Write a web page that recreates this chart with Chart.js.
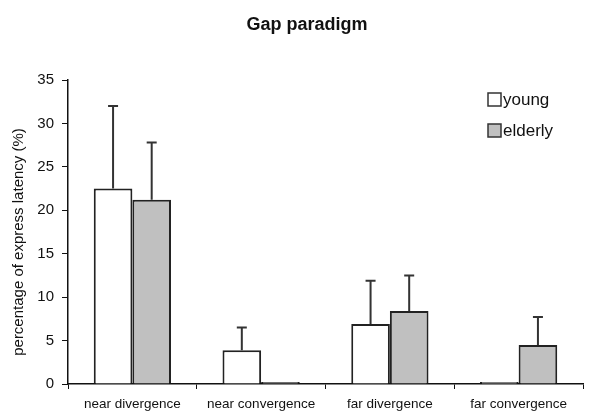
<!DOCTYPE html>
<html>
<head>
<meta charset="utf-8">
<script src="https://cdn.jsdelivr.net/npm/chart.js@4"></script>
<style>
	html, body { margin: 0; padding: 0; background: #fff; }
	#wrap { width: 601px; height: 412px; }
</style>
</head>
<body>
<div id="wrap"><canvas id="myChart" width="601" height="412"></canvas></div>
<script>
// data
const categories = ['near divergence', 'near convergence', 'far divergence', 'far convergence'];
const youngValues = [22.5, 3.9, 6.9, 0.1];
const youngErrors = [9.5, 2.6, 5.0, 0];
const elderlyValues = [21.2, 0.1, 8.4, 4.5];
const elderlyErrors = [6.6, 0, 4.1, 3.2];
const yTicks = [0, 5, 10, 15, 20, 25, 30, 35];

const FONT = "'Liberation Sans', Arial, sans-serif";

// upward error whiskers with a cap
const errorBars = {
	id: 'errorBars',
	afterDatasetsDraw(chart) {
		const ctx = chart.ctx;
		const y = chart.scales.y;
		ctx.save();
		ctx.strokeStyle = '#333';
		ctx.lineWidth = 2;
		chart.data.datasets.forEach((ds, i) => {
			chart.getDatasetMeta(i).data.forEach((bar, j) => {
				const err = ds.errors[j];
				if (!err) return;
				const top = y.getPixelForValue(ds.data[j] + err);
				ctx.beginPath();
				ctx.moveTo(bar.x, bar.y);
				ctx.lineTo(bar.x, top);
				ctx.moveTo(bar.x - 5, top);
				ctx.lineTo(bar.x + 5, top);
				ctx.stroke();
			});
		});
		ctx.restore();
	}
};

// title, y title and legend placed like the original figure
const labels = {
	id: 'labels',
	afterDraw(chart) {
		const ctx = chart.ctx;
		const area = chart.chartArea;
		ctx.save();
		ctx.fillStyle = '#111';
		ctx.textAlign = 'center';
		ctx.textBaseline = 'middle';
		ctx.font = 'bold 18px ' + FONT;
		ctx.fillText('Gap paradigm', 307, 25);

		ctx.save();
		ctx.translate(19, (area.top + area.bottom) / 2 + 10);
		ctx.rotate(-Math.PI / 2);
		ctx.font = '15px ' + FONT;
		ctx.fillText('percentage of express latency (%)', 0, 0);
		ctx.restore();

		const x = area.right - 95;
		let y = area.top + 19;
		ctx.font = '17px ' + FONT;
		ctx.textAlign = 'left';
		chart.data.datasets.forEach(ds => {
			ctx.fillStyle = ds.backgroundColor;
			ctx.fillRect(x, y - 6, 13, 13);
			ctx.strokeStyle = '#333';
			ctx.lineWidth = 1.5;
			ctx.strokeRect(x, y - 6, 13, 13);
			ctx.fillStyle = '#111';
			ctx.fillText(ds.label, x + 15, y + 1);
			y += 31;
		});
		ctx.restore();
	}
};

const ctx = document.getElementById('myChart');
const myChart = new Chart(ctx, {
	type: 'bar',
	data: {
		labels: categories,
		datasets: [{
			label: 'young',
			data: youngValues,
			errors: youngErrors,
			backgroundColor: '#ffffff',
			borderColor: '#222',
			borderWidth: 2,
			borderSkipped: 'bottom',
			minBarLength: 2,
		}, {
			label: 'elderly',
			data: elderlyValues,
			errors: elderlyErrors,
			backgroundColor: '#c0c0c0',
			borderColor: '#222',
			borderWidth: 2,
			borderSkipped: 'bottom',
			minBarLength: 2,
		}]
	},
	options: {
		responsive: false,
		animation: false,
		layout: { padding: { left: 28, right: 18, top: 80, bottom: 0 } },
		datasets: {
			bar: { categoryPercentage: 0.6, barPercentage: 1.0 }
		},
		plugins: {
			legend: { display: false },
			tooltip: { enabled: false },
			title: { display: false },
		},
		scales: {
			x: {
				grid: { drawOnChartArea: false, tickLength: 5, color: '#111', offset: true },
				border: { color: '#111', width: 1.5 },
				ticks: { color: '#111', font: { family: FONT, size: 13.5 }, padding: 7, maxRotation: 0, autoSkip: false },
				afterFit(axis) { axis.height = 28; },
			},
			y: {
				min: 0,
				max: 35,
				afterBuildTicks(axis) { axis.ticks = yTicks.map(v => ({ value: v })); },
				grid: { drawOnChartArea: false, tickLength: 6, color: '#111' },
				border: { color: '#111', width: 1.5 },
				ticks: { color: '#111', font: { family: FONT, size: 15 }, padding: 8 },
				afterFit(axis) { axis.width = 40; },
			},
		},
	},
	plugins: [errorBars, labels],
});
</script>
</body>
</html>
